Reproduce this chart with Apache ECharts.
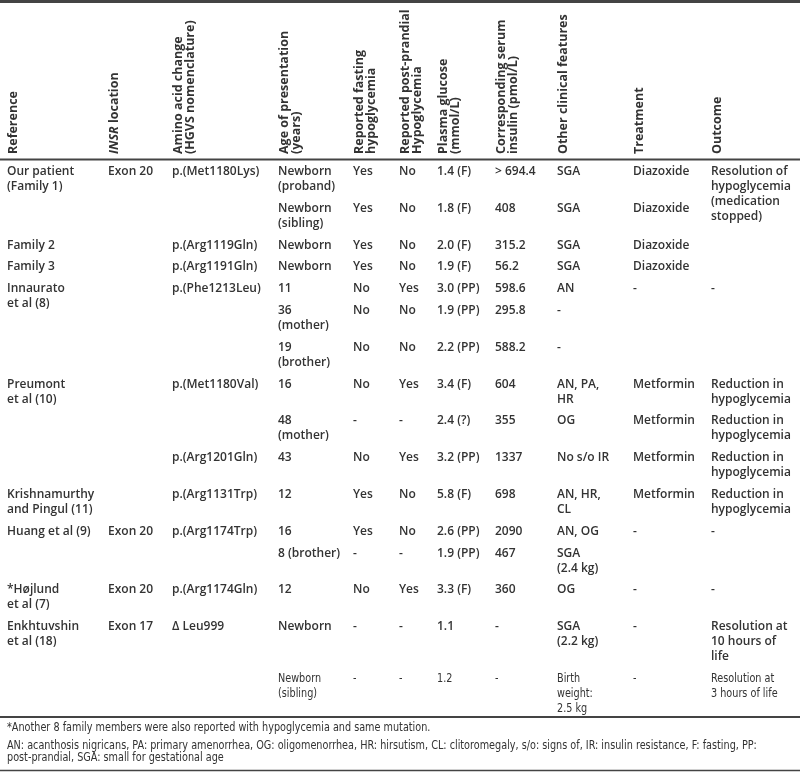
<!DOCTYPE html>
<html>
<head>
<meta charset="utf-8">
<script src="https://cdn.jsdelivr.net/npm/echarts@6/dist/echarts.min.js"></script>
<style>
html,body{margin:0;padding:0;background:#fff;}
#chart{width:800px;height:772px;}
</style>
</head>
<body>
<div id="chart"></div>
<script>
// ---------------- DATA ----------------
const headerLabels = [
  'Reference',
  '{i|INSR} location',
  'Amino acid change\n(HGVS nomenclature)',
  'Age of presentation\n(years)',
  'Reported fasting\nhypoglycemia',
  'Reported post-prandial\nHypoglycemia',
  'Plasma glucose\n(mmol/L)',
  'Corresponding serum\ninsulin (pmol/L)',
  'Other clinical features',
  'Treatment',
  'Outcome'
];
const reference = ['Our patient\n(Family 1)', '', 'Family 2', 'Family 3', 'Innaurato\net al (8)', '', '', 'Preumont\net al (10)', '', '', 'Krishnamurthy\nand Pingul (11)', 'Huang et al (9)', '', '*Højlund\net al (7)', 'Enkhtuvshin\net al (18)', ''];
const insrLocation = ['Exon 20', '', '', '', '', '', '', '', '', '', '', 'Exon 20', '', 'Exon 20', 'Exon 17', ''];
const aminoAcidChange = ['p.(Met1180Lys)', '', 'p.(Arg1119Gln)', 'p.(Arg1191Gln)', 'p.(Phe1213Leu)', '', '', 'p.(Met1180Val)', '', 'p.(Arg1201Gln)', 'p.(Arg1131Trp)', 'p.(Arg1174Trp)', '', 'p.(Arg1174Gln)', 'Δ Leu999', ''];
const agePresentation = ['Newborn\n(proband)', 'Newborn\n(sibling)', 'Newborn', 'Newborn', '11', '36\n(mother)', '19\n(brother)', '16', '48\n(mother)', '43', '12', '16', '8 (brother)', '12', 'Newborn', 'Newborn\n(sibling)'];
const fastingHypo = ['Yes', 'Yes', 'Yes', 'Yes', 'No', 'No', 'No', 'No', '-', 'No', 'Yes', 'Yes', '-', 'No', '-', '-'];
const postprandialHypo = ['No', 'No', 'No', 'No', 'Yes', 'No', 'No', 'Yes', '-', 'Yes', 'No', 'No', '-', 'Yes', '-', '-'];
const plasmaGlucose = ['1.4 (F)', '1.8 (F)', '2.0 (F)', '1.9 (F)', '3.0 (PP)', '1.9 (PP)', '2.2 (PP)', '3.4 (F)', '2.4 (?)', '3.2 (PP)', '5.8 (F)', '2.6 (PP)', '1.9 (PP)', '3.3 (F)', '1.1', '1.2'];
const serumInsulin = ['> 694.4', '408', '315.2', '56.2', '598.6', '295.8', '588.2', '604', '355', '1337', '698', '2090', '467', '360', '-', '-'];
const otherFeatures = ['SGA', 'SGA', 'SGA', 'SGA', 'AN', '-', '-', 'AN, PA,\nHR', 'OG', 'No s/o IR', 'AN, HR,\nCL', 'AN, OG', 'SGA\n(2.4 kg)', 'OG', 'SGA\n(2.2 kg)', 'Birth\nweight:\n2.5 kg'];
const treatment = ['Diazoxide', 'Diazoxide', 'Diazoxide', 'Diazoxide', '-', '', '', 'Metformin', 'Metformin', 'Metformin', 'Metformin', '-', '', '-', '-', '-'];
const outcome = ['Resolution of\nhypoglycemia\n(medication\nstopped)', '', '', '', '-', '', '', 'Reduction in\nhypoglycemia', 'Reduction in\nhypoglycemia', 'Reduction in\nhypoglycemia', 'Reduction in\nhypoglycemia', '-', '', '-', 'Resolution at\n10 hours of\nlife', 'Resolution at\n3 hours of life'];
const footnotes = [
  '*Another 8 family members were also reported with hypoglycemia and same mutation.',
  'AN: acanthosis nigricans, PA: primary amenorrhea, OG: oligomenorrhea, HR: hirsutism, CL: clitoromegaly, s/o: signs of, IR: insulin resistance, F: fasting, PP:\npost-prandial, SGA: small for gestational age'
];

// ---------------- LAYOUT ----------------
const columns = [reference, insrLocation, aminoAcidChange, agePresentation, fastingHypo, postprandialHypo, plasmaGlucose, serumInsulin, otherFeatures, treatment, outcome];
const colLeft = [7, 108, 172, 278, 353, 399, 437, 495, 557, 633, 711];
const rowLines = [2, 2, 1, 1, 1, 2, 2, 2, 2, 2, 2, 1, 2, 2, 3, 3];
const narrowRows = [15];
const firstRowTop = 164;
const lineH = 15;
const rowPad = 6.8;
const headerBase = 154;
const footTop = [722, 740];
const rules = [[1.5, 3], [159.5, 2], [717, 2], [770.5, 1.5]];

const BODY_FONT = '600 12px "Open Sans", sans-serif';
const NARROW_FONT = '12.5px "Liberation Sans Narrow", "DejaVu Sans Condensed", sans-serif';
const NARROW_SCALE = 0.86;
const HEAD_FONT = 'bold 12.5px "Open Sans", sans-serif';
const INK = '#333';

const rowTop = [];
let acc = firstRowTop;
rowLines.forEach(n => { rowTop.push(acc); acc += n * lineH + rowPad; });

const cells = [];
columns.forEach((col, c) => {
  col.forEach((txt, r) => {
    if (txt) cells.push({ x: colLeft[c], y: rowTop[r], text: txt, narrow: narrowRows.indexOf(r) >= 0 });
  });
});
footnotes.forEach((t, i) => cells.push({ x: colLeft[0], y: footTop[i], text: t, narrow: true, foot: true }));

const heads = headerLabels.map((t, c) => ({ x: colLeft[c], y: headerBase, text: t }));

const chart = echarts.init(document.getElementById('chart'), null, { renderer: 'canvas' });
chart.setOption({
  animation: false,
  backgroundColor: '#fff',
  grid: { left: 0, right: 0, top: 0, bottom: 0 },
  xAxis: { type: 'value', min: 0, max: 800, show: false },
  yAxis: { type: 'value', min: 0, max: 772, inverse: true, show: false },
  series: [
    {
      type: 'custom',
      coordinateSystem: 'cartesian2d',
      data: rules.map(r => [r[0], r[1]]),
      renderItem: function (params, api) {
        const y = api.value(0);
        const p1 = api.coord([0, y]);
        const p2 = api.coord([800, y]);
        return {
          type: 'line',
          shape: { x1: p1[0], y1: p1[1], x2: p2[0], y2: p2[1] },
          style: { stroke: '#444', lineWidth: api.value(1) }
        };
      }
    },
    {
      type: 'custom',
      coordinateSystem: 'cartesian2d',
      data: heads.map(h => [h.x, h.y]),
      renderItem: function (params, api) {
        const h = heads[params.dataIndex];
        const p = api.coord([api.value(0), api.value(1)]);
        return {
          type: 'text',
          x: p[0], y: p[1],
          rotation: Math.PI / 2,
          style: {
            text: h.text,
            font: HEAD_FONT,
            fill: INK,
            align: 'left',
            verticalAlign: 'top',
            lineHeight: 12,
            rich: { i: { font: 'italic bold 12.5px "Open Sans", sans-serif', fill: INK, lineHeight: 12 } }
          }
        };
      }
    },
    {
      type: 'custom',
      coordinateSystem: 'cartesian2d',
      data: cells.map(c => [c.x, c.y]),
      renderItem: function (params, api) {
        const c = cells[params.dataIndex];
        const p = api.coord([api.value(0), api.value(1)]);
        return {
          type: 'text',
          x: p[0], y: p[1],
          scaleX: c.narrow ? NARROW_SCALE : 1,
          style: {
            text: c.text,
            font: c.narrow ? NARROW_FONT : BODY_FONT,
            fill: INK,
            align: 'left',
            verticalAlign: 'top',
            lineHeight: c.foot ? 12 : lineH
          }
        };
      }
    }
  ]
});
</script>
</body>
</html>
